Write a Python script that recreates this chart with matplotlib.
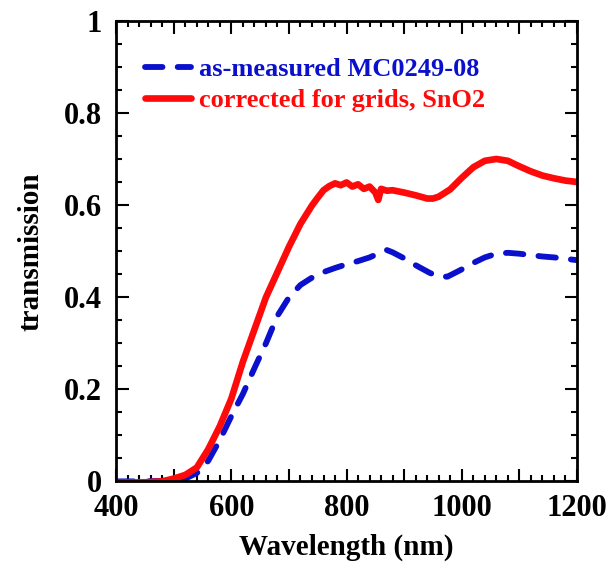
import matplotlib
matplotlib.use("Agg")
import matplotlib.pyplot as plt
from matplotlib.ticker import MultipleLocator, FuncFormatter

plt.rcParams["font.family"] = ["Liberation Serif", "DejaVu Serif"]
plt.rcParams["font.weight"] = "bold"

# as-measured MC0249-08
wl_meas = [400, 450, 500, 520, 540, 550, 560, 580, 600, 620, 640, 660, 680, 700,
           720, 740, 760, 780, 800, 820, 840, 860, 870, 880, 900, 920, 945, 960,
           975, 1000, 1020, 1040, 1060, 1080, 1100, 1120, 1140, 1160, 1180, 1200]
t_meas = [0.0, 0.0, 0.002, 0.006, 0.018, 0.03, 0.045, 0.09, 0.142, 0.19, 0.246,
          0.30, 0.36, 0.40, 0.427, 0.443, 0.455, 0.464, 0.472, 0.479, 0.487,
          0.498, 0.503, 0.498, 0.485, 0.47, 0.453, 0.446, 0.445, 0.461, 0.475,
          0.487, 0.495, 0.497, 0.495, 0.492, 0.489, 0.487, 0.484, 0.481]

# corrected for grids, SnO2
wl_corr = [400, 450, 480, 500, 520, 540, 560, 580, 600, 620, 640, 660, 680, 700,
           720, 740, 750, 760, 770, 780, 790, 800, 810, 820, 830, 840, 850, 855,
           860, 870, 880, 900, 920, 940, 950, 960, 980, 1000, 1020, 1040, 1060,
           1080, 1100, 1120, 1140, 1160, 1180, 1200]
t_corr = [-0.003, -0.002, 0.0, 0.006, 0.014, 0.03, 0.07, 0.12, 0.18, 0.26, 0.33,
          0.40, 0.455, 0.51, 0.56, 0.60, 0.617, 0.633, 0.642, 0.648, 0.644, 0.650,
          0.641, 0.646, 0.636, 0.641, 0.628, 0.612, 0.636, 0.632, 0.633, 0.628,
          0.622, 0.615, 0.615, 0.619, 0.635, 0.66, 0.683, 0.697, 0.701, 0.697,
          0.685, 0.674, 0.665, 0.659, 0.654, 0.651]

BLUE = "#0a10cc"
RED = "#ff0a0a"

fig = plt.figure(figsize=(6.08, 5.65), dpi=100)
ax = fig.add_axes([0.191, 0.148, 0.758, 0.814])

ax.plot(wl_meas, t_meas, color=BLUE, lw=4.2, linestyle=(0, (3.0, 2.6)),
        dash_capstyle="round", solid_capstyle="round",
        label="as-measured MC0249-08")
ax.plot(wl_corr, t_corr, color=RED, lw=4.8, solid_capstyle="round",
        solid_joinstyle="round", label="corrected for grids, SnO2")

ax.set_xlim(400, 1200)
ax.set_ylim(0, 1)
ax.xaxis.set_major_locator(MultipleLocator(100))
ax.xaxis.set_minor_locator(MultipleLocator(20))
ax.xaxis.set_major_formatter(FuncFormatter(lambda v, p: "%d" % v if round(v) % 200 == 0 else ""))
ax.yaxis.set_major_locator(MultipleLocator(0.2))
ax.yaxis.set_minor_locator(MultipleLocator(0.05))
ax.yaxis.set_major_formatter(FuncFormatter(lambda v, p: "%g" % round(v, 1)))

ax.tick_params(which="both", direction="in", top=True, right=True, width=1.5,
               labelsize=22)
ax.tick_params(axis="x", pad=9)
ax.tick_params(axis="y", pad=10)
ax.tick_params(which="major", length=9)
ax.tick_params(which="minor", length=4.5)
for s in ax.spines.values():
    s.set_linewidth(2)

ax.set_xlabel("Wavelength (nm)", fontsize=21, fontweight="bold", labelpad=8)
ax.set_ylabel("transmission", fontsize=21, fontweight="bold", labelpad=14)

leg = ax.legend(loc="upper left", bbox_to_anchor=(0.04, 0.945), frameon=False,
                fontsize=19, handlelength=1.75, handletextpad=0.3,
                labelspacing=0.3, borderaxespad=0)
for txt, c in zip(leg.get_texts(), [BLUE, RED]):
    txt.set_color(c)

fig.savefig("out.png", dpi=100)
